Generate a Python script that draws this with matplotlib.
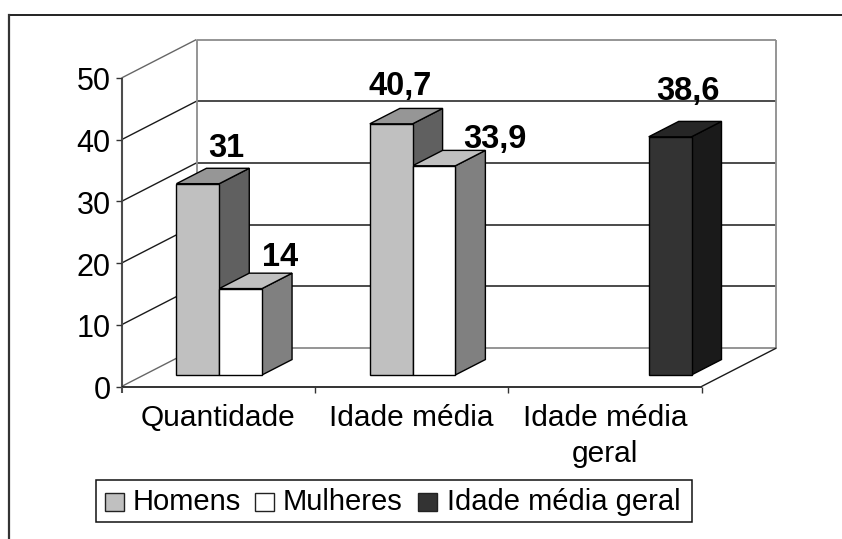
import matplotlib
matplotlib.use("Agg")
import matplotlib.pyplot as plt
from matplotlib.lines import Line2D
from matplotlib.patches import Polygon, Rectangle

plt.rcParams['font.family'] = ['Liberation Sans', 'DejaVu Sans']

categories = ['Quantidade', 'Idade média', 'Idade média\ngeral']
series = ['Homens', 'Mulheres', 'Idade média geral']
homens = [31, 40.7, None]
mulheres = [14, 33.9, None]
geral = [None, None, 38.6]
value_labels = {'Homens': ['31', '40,7', None], 'Mulheres': ['14', '33,9', None],
                'Idade média geral': [None, None, '38,6']}
yticks = [0, 10, 20, 30, 40, 50]

W, H = 842, 539
fig = plt.figure(figsize=(W / 100, H / 100), dpi=100)

# px geometry of the front plane
L, R, B, T = 121.5, 701.5, 386.5, 78
ax = fig.add_axes([L / W, 1 - B / H, (R - L) / W, (B - T) / H])
ax.set_xlim(0, 3)
ax.set_ylim(0, 50)
ax.axis('off')
ax.patch.set_alpha(0)

PXX = (R - L) / 3   # px per category
PXY = (B - T) / 50  # px per value unit
DX = 75 / PXX
DY = 38.5 / PXY

def P(x, y, d=0.0):
    return (x + d * DX, y + d * DY)

def fline(xs, ys, **k):
    fig.add_artist(Line2D([x / W for x in xs], [1 - y / H for y in ys],
                          transform=fig.transFigure, solid_capstyle='projecting', **k))

# outer frame: only top and left edges are visible
fline([8.5, W], [14.5, 14.5], color='#111111', lw=1.3)
fline([8.5, 8.5], [14.5, H], color='#333333', lw=1.6)

GRAY = '#8C8C8C'
DARK = '#1A1A1A'
kw = dict(clip_on=False, solid_capstyle='butt')
for v in yticks:
    c = GRAY if v in (0, 50) else DARK
    a, b = P(0, v), P(0, v, 1)
    ax.plot([a[0], b[0]], [a[1], b[1]], color='#666666' if v in (0, 50) else DARK, lw=1.0, zorder=2, **kw)
    e = P(3, v, 1)
    ax.plot([b[0], e[0]], [b[1], e[1]], color=c, lw=1.3 if v in (0, 50) else 1.1, zorder=2, **kw)
# back wall verticals
for xv in (0, 3):
    a, b = P(xv, 0, 1), P(xv, 50, 1)
    ax.plot([a[0], b[0]], [a[1], b[1]], color=GRAY, lw=1.3, zorder=2, **kw)
# floor right edge
a, b = P(3, 0), P(3, 0, 1)
ax.plot([a[0], b[0]], [a[1], b[1]], color=DARK, lw=1.0, zorder=2, **kw)

# axes
ax.plot([0, 0], [0, 50], color='#4D4D4D', lw=1.5, zorder=6, **kw)
ax.plot([0, 3], [0, 0], color='#111111', lw=1.2, zorder=6, **kw)
tx = 6 / PXX
ty = 6 / PXY
for v in yticks:
    ax.plot([-tx, 0], [v, v], color='#333333', lw=1.0, zorder=6, **kw)
    ax.text(-11 / PXX, v - 12.5 / PXY, str(v), ha='right', va='baseline', fontsize=22, color='#000000')
ax.plot([0, 0], [0, -ty], color='#4D4D4D', lw=1.5, zorder=6, **kw)
for i in range(1, 4):
    ax.plot([i, i], [0, -ty], color='#333333', lw=1.0, zorder=6, **kw)
for i, c in enumerate(categories):
    for j, line in enumerate(c.split('\n')):
        ax.text(i + 0.5, -(39.5 + 36 * j) / PXY, line, ha='center', va='baseline',
                fontsize=21.5, color='#000000')

# bars
front = {'Homens': '#C0C0C0', 'Mulheres': '#FFFFFF', 'Idade média geral': '#333333'}
topc = {'Homens': '#969696', 'Mulheres': '#C0C0C0', 'Idade média geral': '#262626'}
side = {'Homens': '#606060', 'Mulheres': '#808080', 'Idade média geral': '#1A1A1A'}
data = {'Homens': homens, 'Mulheres': mulheres, 'Idade média geral': geral}
d0, d1 = 0.30, 0.70
gap, bw = 0.168, 0.2213
# label placement relative to the front-left top corner of each bar, in px
label_offset = {'31': (50, 26.3), '14': (61, 23), '40,7': (30, 29), '33,9': (82, 18), '38,6': (39.5, 37)}
ec = dict(edgecolor='#000000', linewidth=1.0, joinstyle='miter', clip_on=False)
for cat in range(3):
    for si, name in enumerate(series):
        v = data[name][cat]
        if v is None:
            continue
        x0 = cat + gap + si * bw
        x1 = x0 + bw
        ax.add_patch(Polygon([P(x1, 0, d0), P(x1, 0, d1), P(x1, v, d1), P(x1, v, d0)],
                             facecolor=side[name], zorder=10, **ec))
        ax.add_patch(Polygon([P(x0, v, d0), P(x1, v, d0), P(x1, v, d1), P(x0, v, d1)],
                             facecolor=topc[name], zorder=10, **ec))
        ax.add_patch(Polygon([P(x0, 0, d0), P(x1, 0, d0), P(x1, v, d0), P(x0, v, d0)],
                             facecolor=front[name], zorder=11, **ec))
        lab = value_labels[name][cat]
        off = label_offset[lab]
        ax.annotate(lab, xy=P(x0, v, d0), xytext=(off[0] * 0.72, off[1] * 0.72),
                    textcoords='offset points', ha='center', va='baseline',
                    fontsize=23.5, fontweight='bold', color='#000000', zorder=30,
                    annotation_clip=False)

# legend
lx0, lx1, ly0, ly1 = 95.5, 691.5, 479.5, 521.5
fig.add_artist(Rectangle((lx0 / W, 1 - ly1 / H), (lx1 - lx0) / W, (ly1 - ly0) / H,
                         transform=fig.transFigure, fc='white', ec='#111111', lw=1.1))
items = [(104.5, 'Homens', 133), (255, 'Mulheres', 283), (418, 'Idade média geral', 446.5)]
for bx, name, tx_ in items:
    fig.add_artist(Rectangle((bx / W, 1 - 510.5 / H), 19 / W, 17.5 / H, transform=fig.transFigure,
                             fc=front[name], ec='#222222', lw=1.0))
    fig.text(tx_ / W, 1 - 510 / H, name, ha='left', va='baseline', fontsize=21, color='#000000')

fig.savefig('out.png', dpi=100)
